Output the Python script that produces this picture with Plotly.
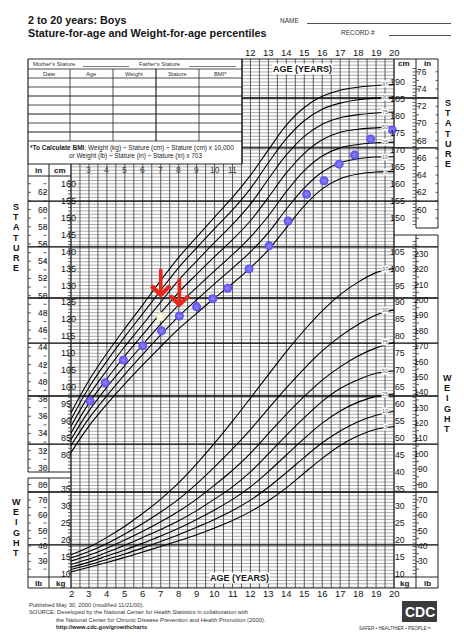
import plotly.graph_objects as go

# ---- values -------------------------------------------------------------
ages = list(range(2, 21))

# stature-for-age percentiles (cm)
stature_pct = {
    "97": [92.5, 102.0, 110.0, 117.3, 124.3, 131.5, 138.3, 144.3, 150.2, 156.0, 162.5, 170.0, 177.3, 182.5, 185.8, 187.6, 188.5, 189.0, 189.3],
    "90": [90.5, 99.9, 107.7, 114.9, 121.7, 128.6, 135.3, 141.1, 146.8, 152.3, 158.6, 166.2, 173.3, 178.6, 182.0, 183.8, 184.8, 185.3, 185.6],
    "75": [88.5, 97.6, 105.0, 112.0, 118.5, 125.1, 131.6, 137.2, 142.7, 148.0, 154.0, 161.4, 168.5, 174.0, 177.6, 179.5, 180.4, 180.9, 181.2],
    "50": [86.5, 95.3, 102.5, 109.2, 115.5, 121.9, 128.0, 133.3, 138.5, 143.5, 149.1, 156.0, 163.2, 169.0, 173.0, 175.2, 176.1, 176.5, 176.8],
    "25": [84.6, 93.0, 100.0, 106.4, 112.6, 118.6, 124.3, 129.4, 134.3, 139.1, 144.3, 150.5, 157.7, 163.9, 168.2, 170.6, 171.6, 172.1, 172.3],
    "10": [82.8, 90.8, 97.5, 103.8, 109.7, 115.4, 120.9, 125.8, 130.5, 135.1, 139.9, 145.6, 152.5, 158.8, 163.5, 166.2, 167.4, 167.9, 168.0],
    "3":  [80.7, 88.5, 95.0, 101.0, 106.6, 112.0, 117.2, 121.8, 126.3, 130.6, 135.2, 140.5, 147.0, 153.5, 158.5, 161.5, 162.9, 163.5, 163.6],
}

# weight-for-age percentiles (kg)
weight_pct = {
    "97": [15.6, 17.8, 20.7, 24.0, 27.8, 32.0, 36.8, 42.4, 48.5, 55.0, 61.8, 68.7, 75.5, 81.8, 87.5, 92.3, 96.0, 98.8, 100.0],
    "90": [14.6, 16.5, 18.9, 21.7, 24.8, 28.2, 32.0, 36.5, 41.5, 46.8, 52.5, 58.7, 64.8, 70.5, 75.7, 80.0, 83.5, 86.3, 87.8],
    "75": [13.7, 15.4, 17.5, 19.9, 22.5, 25.3, 28.4, 32.0, 36.1, 40.5, 45.5, 51.3, 57.0, 62.3, 67.1, 71.0, 74.2, 76.6, 78.2],
    "50": [12.7, 14.3, 16.3, 18.4, 20.7, 23.0, 25.6, 28.6, 32.0, 35.6, 40.0, 45.3, 50.8, 56.0, 60.8, 64.6, 67.2, 69.1, 69.8],
    "25": [11.9, 13.4, 15.2, 17.0, 19.0, 21.1, 23.4, 26.0, 28.8, 31.9, 35.6, 40.1, 45.0, 49.9, 54.4, 58.0, 60.6, 62.3, 63.0],
    "10": [11.2, 12.6, 14.2, 15.8, 17.6, 19.5, 21.5, 23.7, 26.0, 28.6, 31.7, 35.5, 39.8, 44.3, 48.6, 52.1, 54.8, 56.7, 57.9],
    "3":  [10.5, 11.9, 13.3, 14.8, 16.4, 18.0, 19.7, 21.5, 23.5, 25.7, 28.3, 31.5, 35.3, 39.7, 44.0, 47.8, 50.7, 52.6, 53.4],
}

# measured statures plotted as dots
visit_age = [3.06, 3.91, 4.92, 6.0, 7.05, 8.04, 9.0, 9.9, 10.73, 11.92, 13.04, 14.1, 15.13, 16.1, 16.94, 17.8, 18.7, 19.9]
visit_stature = [95.9, 101.3, 108.0, 112.2, 116.6, 121.0, 123.7, 126.1, 129.2, 134.9, 141.7, 149.0, 156.9, 160.9, 165.8, 168.5, 173.2, 175.9]
flag_age = [7.0]
flag_stature = [120.8]

# red arrows (age, stature at tail, stature at tip)
arrow_age = [7.0, 8.04]
arrow_from = [135.2, 132.5]
arrow_to = [126.3, 123.4]

stature_cm_ticks = list(range(80, 161, 5))
stature_in_ticks = list(range(30, 63, 2))
right_cm_ticks = list(range(150, 191, 5))
right_in_ticks = list(range(60, 77, 2))
right_kg_ticks = list(range(10, 106, 5))
right_lb_ticks = list(range(30, 231, 10))
left_kg_ticks = list(range(10, 36, 5))
left_lb_ticks = list(range(30, 81, 10))

# ---- page geometry -------------------------------------------------------
W, H = 464, 640
PX_AGE2, PX_AGE20 = 71, 394
PY_CM80, PX_PER_CM = 455, 3.39
KG_SHIFT = 35            # weight (kg) shares the cm axis, shifted
IN_CM, LB_KG = 2.54, 0.45359
PPY = (PX_AGE20 - PX_AGE2) / 18

FONT = "Liberation Sans, Arial, sans-serif"
INK = "#151515"


def ax(px):
    return 2 + (px - PX_AGE2) / PPY


def uy(py):
    return 80 + (PY_CM80 - py) / PX_PER_CM


def P(px):
    return px / W


def Q(py):
    return 1 - py / H


TOP_L, TOP_R, BOT = uy(164), uy(59), uy(588)
A_TAB = ax(242)

fig = go.Figure()
notes = []
shapes = []


def lines(segs, color, width):
    xs, ys = [], []
    for x0, y0, x1, y1 in segs:
        xs += [x0, x1, None]
        ys += [y0, y1, None]
    fig.add_trace(go.Scatter(x=xs, y=ys, mode="lines", hoverinfo="skip",
                             line=dict(color=color, width=width)))


def pline(x0, y0, x1, y1, w=0.8, c="#222"):
    shapes.append(dict(type="line", xref="paper", yref="paper",
                       x0=P(x0), y0=Q(y0), x1=P(x1), y1=Q(y1),
                       line=dict(color=c, width=w)))


def text(xp, yp, s, size=8.5, anchor="center", color=INK, bg=None):
    notes.append(dict(x=P(xp), y=Q(yp), xref="paper", yref="paper", text=s,
                      showarrow=False, xanchor=anchor, yanchor="middle", borderpad=0,
                      bgcolor=bg, font=dict(family=FONT, size=size, color=color)))


def scale_label(xp, value, s, size):
    notes.append(dict(x=P(xp), y=value, xref="paper", yref="y", text=s, showarrow=False,
                      borderpad=0, font=dict(family=FONT, size=size, color=INK)))


def curve_label(value, s):
    notes.append(dict(x=19.5, y=value, xref="x", yref="y", text=s, showarrow=False,
                      bgcolor="white", borderpad=0,
                      font=dict(family=FONT, size=5.5, color="#666")))


# ---- grid ----------------------------------------------------------------
h = []
for u in range(41, 197):
    h.append((2 if u <= TOP_L else A_TAB, u, 20, u))
lines(h, "#9c9c9c", 0.85)

v = []
for i in range(37):
    a = 2 + i * 0.5
    v.append((a, BOT, a, TOP_R if a > A_TAB else TOP_L))
lines(v, "#5a5a5a", 1)

bold_u = [185.3, 170.6, 154.9, 141.4, 126.3, 113.0, 97.4, 83.2, 69.1, 53.5]
b = []
for u in bold_u:
    b.append((ax(28) if u <= TOP_L else A_TAB, u, ax(438), u))
lines(b, "#000000", 1.4)

# frames of grid and side scales
frame = [
    (2, BOT, 20, BOT), (20, BOT, 20, TOP_R), (A_TAB, TOP_R, 20, TOP_R),
    (A_TAB, TOP_L, A_TAB, TOP_R), (2, TOP_L, A_TAB, TOP_L), (2, BOT, 2, TOP_L),
    # left stature box
    (ax(28), uy(164), ax(28), uy(472)), (ax(49), uy(164), ax(49), uy(472)),
    (ax(28), uy(164), ax(71), uy(164)), (ax(28), uy(472), ax(71), uy(472)),
    (ax(28), uy(176), ax(71), uy(176)),
    # left weight box
    (ax(28), uy(478), ax(28), uy(588)), (ax(49), uy(478), ax(49), uy(588)),
    (ax(28), uy(478), ax(71), uy(478)), (ax(28), uy(588), ax(71), uy(588)),
    (ax(28), uy(577), ax(71), uy(577)),
    # right stature box
    (ax(416), uy(59), ax(416), uy(228)), (ax(438), uy(59), ax(438), uy(228)),
    (20, uy(59), ax(438), uy(59)), (ax(416), uy(228), ax(438), uy(228)),
    # right weight box
    (ax(416), uy(235), ax(416), uy(588)), (ax(438), uy(235), ax(438), uy(588)),
    (20, uy(235), ax(438), uy(235)), (20, uy(588), ax(438), uy(588)),
    (20, uy(577), ax(438), uy(577)),
]
lines(frame, "#222222", 1)

# scale ticks
t = []
for i in range(30, 64):
    u = i * IN_CM
    t += [(ax(28), u, ax(31), u), (ax(43.5), u, ax(46.5), u)]
for c in range(76, 162):
    t.append((ax(68), c, ax(71), c))
for i in range(59, 77):
    u = i * IN_CM
    t += [(ax(416), u, ax(419), u), (ax(435.5), u, ax(438), u)]
for c in range(148, 195):
    t.append((ax(412.5), c, ax(416), c))
for k in range(10, 109):
    t.append((ax(412.5), k + KG_SHIFT, ax(416), k + KG_SHIFT))
for lb in range(25, 241, 5):
    t.append((ax(416), lb * LB_KG + KG_SHIFT, ax(419), lb * LB_KG + KG_SHIFT))
for k in range(10, 38):
    t.append((ax(68), k + KG_SHIFT, ax(71), k + KG_SHIFT))
for lb in range(25, 81, 5):
    u = lb * LB_KG + KG_SHIFT
    t += [(ax(28), u, ax(31), u), (ax(43.5), u, ax(46.5), u)]
lines(t, "#333333", 0.8)

# ---- percentile curves -----------------------------------------------------
for name, vals in stature_pct.items():
    fig.add_trace(go.Scatter(x=ages, y=vals, mode="lines", hoverinfo="skip",
                             line=dict(color="#000", width=1.1, shape="spline")))
    curve_label(vals[-1], name)
for name, vals in weight_pct.items():
    fig.add_trace(go.Scatter(x=ages, y=[w + KG_SHIFT for w in vals], mode="lines", hoverinfo="skip",
                             line=dict(color="#000", width=1.1, shape="spline")))
    curve_label(vals[-1] + KG_SHIFT, name)

# ---- measurements ------------------------------------------------------------
fig.add_trace(go.Scatter(x=visit_age, y=visit_stature, mode="markers", hoverinfo="skip",
                         marker=dict(size=9, color="#5a49ea",
                                     gradient=dict(type="radial", color="#9088ff"))))
fig.add_trace(go.Scatter(x=flag_age, y=flag_stature, mode="markers", hoverinfo="skip",
                         marker=dict(size=9, color="#f3ecc0",
                                     gradient=dict(type="radial", color="#fffff0"))))
for a, y0, y1 in zip(arrow_age, arrow_from, arrow_to):
    notes.append(dict(x=a, y=y1, ax=a, ay=y0, xref="x", yref="y", axref="x", ayref="y",
                      text="", showarrow=True, arrowhead=4, arrowsize=1, arrowwidth=3.6,
                      arrowcolor="#e5261b", standoff=0))

# ---- scale labels --------------------------------------------------------------
for c in stature_cm_ticks:
    scale_label(60, c, str(c), 9)
for i in stature_in_ticks:
    scale_label(37, i * IN_CM, str(i), 8.5)
for c in right_cm_ticks:
    scale_label(405.5, c, str(c), 9)
for i in right_in_ticks:
    scale_label(428, i * IN_CM, str(i), 8.5)
for k in right_kg_ticks:
    scale_label(405.5, k + KG_SHIFT, str(k), 8.7)
for lb in right_lb_ticks:
    scale_label(429, lb * LB_KG + KG_SHIFT, str(lb), 8.5)
for k in left_kg_ticks:
    scale_label(60, k + KG_SHIFT, str(k), 8.7)
for lb in left_lb_ticks:
    scale_label(37, lb * LB_KG + KG_SHIFT, str(lb), 8.5)

for a in ages:
    text(PX_AGE2 + (a - 2) * PPY, 593, str(a), 9.5)
for a in range(3, 12):
    text(PX_AGE2 + (a - 2) * PPY, 170.5, str(a), 8.5, color="#444")
for a in range(12, 21):
    text(PX_AGE2 + (a - 2) * PPY, 53, str(a), 9.5)

for s, x, y in [("in", 38, 170), ("cm", 60, 170), ("cm", 404, 63.5), ("in", 427, 63.5),
                ("lb", 38, 583), ("kg", 60, 583), ("kg", 404, 583), ("lb", 427, 583)]:
    text(x, y, "<b>%s</b>" % s, 8)

text(302, 69, "<b>AGE (YEARS)</b>", 9, bg="white")
text(239, 578, "<b>AGE (YEARS)</b>", 9, bg="white")

for word, x, y0 in [("STATURE", 16, 207), ("STATURE", 448, 103),
                    ("WEIGHT", 16, 502), ("WEIGHT", 447, 378)]:
    for j, ch in enumerate(word):
        text(x, y0 + j * 10.2, "<b>%s</b>" % ch, 9)

# ---- header, record table, footer ------------------------------------------------
text(27, 20, "<b>2 to 20 years: Boys</b>", 10.8, anchor="left")
text(27, 33, "<b>Stature-for-age and Weight-for-age percentiles</b>", 10.8, anchor="left")
text(279, 20, "NAME", 6.5, anchor="left", color="#333")
pline(307, 23.5, 451, 23.5, 0.8)
text(340, 33, "RECORD #", 6.5, anchor="left", color="#333")
pline(389, 35.5, 451, 35.5, 0.8)

pline(28, 59, 242, 59, 1.2)
pline(28, 59, 28, 164, 1.2)
pline(242, 59, 242, 164, 1.2)
pline(28, 69, 242, 69, 0.8)
pline(28, 78, 242, 78, 0.8)
for j, y in enumerate([87, 96, 105, 114, 123, 132, 141]):
    pline(28, y, 242, y, 1.2 if j % 2 else 0.8)
for x in [70, 113, 156, 199]:
    pline(x, 69, x, 141, 1.2 if x == 156 else 0.8)
text(32, 64, "Mother's Stature", 5.8, anchor="left", color="#333")
pline(83, 66.5, 129, 66.5, 0.6)
text(138, 64, "Father's Stature", 5.8, anchor="left", color="#333")
pline(189, 66.5, 236, 66.5, 0.6)
for s, x in [("Date", 49), ("Age", 91), ("Weight", 134), ("Stature", 177), ("BMI*", 220)]:
    text(x, 74, s, 5.8, color="#333")
text(29, 148, "<b>*To Calculate BMI</b>: Weight (kg) ÷ Stature (cm) ÷ Stature (cm) x 10,000",
     6.5, anchor="left", color="#222")
text(135, 156, "or Weight (lb) ÷ Stature (in) ÷ Stature (in) x 703", 6.4, color="#222")

text(28, 605, "Published May 30, 2000 (modified 11/21/00).", 5.8, anchor="left", color="#333")
text(28, 612, "SOURCE: Developed by the National Center for Health Statistics in collaboration with",
     5.8, anchor="left", color="#333")
text(55, 619.5, "the National Center for Chronic Disease Prevention and Health Promotion (2000).",
     5.8, anchor="left", color="#333")
text(55, 627, "<b>http://www.cdc.gov/growthcharts</b>", 5.8, anchor="left", color="#222")

shapes.append(dict(type="rect", xref="paper", yref="paper", x0=P(402), x1=P(437),
                   y0=Q(622), y1=Q(601), fillcolor="#3b3b3b", line=dict(width=0)))
text(419.5, 611.5, "<b>CDC</b>", 14, color="white")
text(395, 628, "SAFER • HEALTHIER • PEOPLE™", 4.6, color="#333")

fig.update_layout(
    width=W, height=H, autosize=False,
    margin=dict(l=0, r=0, t=0, b=0),
    paper_bgcolor="white", plot_bgcolor="white",
    showlegend=False,
    xaxis=dict(range=[ax(0), ax(W)], visible=False, fixedrange=True),
    yaxis=dict(range=[uy(H), uy(0)], visible=False, fixedrange=True),
    shapes=shapes, annotations=notes,
)

fig.write_html("out.html", config={"displayModeBar": False},
               post_script="document.body.style.margin='0px';document.body.style.overflow='hidden';")
